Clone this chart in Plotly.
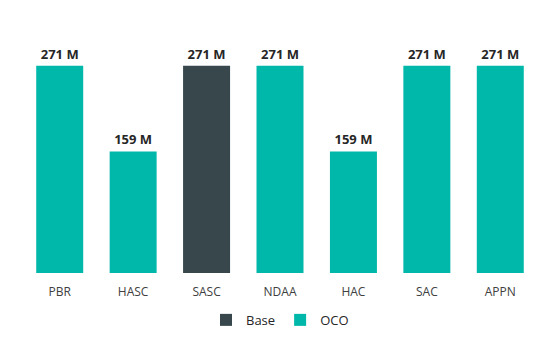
import plotly.graph_objects as go

categories = ["PBR", "HASC", "SASC", "NDAA", "HAC", "SAC", "APPN"]
values = [271, 159, 271, 271, 159, 271, 271]
series = ["OCO", "OCO", "Base", "OCO", "OCO", "OCO", "OCO"]
series_names = ["Base", "OCO"]
colors = {"Base": "#37474C", "OCO": "#00B8A9"}

fig = go.Figure()
for name in series_names:
    xs = [c for c, s in zip(categories, series) if s == name]
    ys = [v for v, s in zip(values, series) if s == name]
    fig.add_trace(go.Bar(
        x=xs, y=ys, name=name,
        marker=dict(color=colors[name], line=dict(width=0)),
        texttemplate="<b>%{y} M</b>",
        textposition="outside",
        textfont=dict(family="Open Sans, sans-serif", size=13, color="#262626"),
        cliponaxis=False,
        hoverinfo="skip",
    ))

fig.update_layout(
    width=556, height=344,
    margin=dict(l=23, r=19, t=20, b=71, autoexpand=False),
    paper_bgcolor="white", plot_bgcolor="white",
    barmode="relative",
    bargap=0.36,
    font=dict(family="Open Sans, sans-serif", size=12, color="#404040"),
    xaxis=dict(categoryorder="array", categoryarray=categories,
               showline=False, showgrid=False, ticks="", zeroline=False,
               ticklabelstandoff=10, automargin=False,
               tickfont=dict(size=12, color="#404040")),
    yaxis=dict(range=[0, 331], visible=False),
    showlegend=True,
    legend=dict(orientation="h", x=0.5, xanchor="center",
                yref="container", y=0.07, yanchor="middle",
                font=dict(size=13, color="#262626"), traceorder="normal",
                itemwidth=30),
)

fig.write_html("out.html")
